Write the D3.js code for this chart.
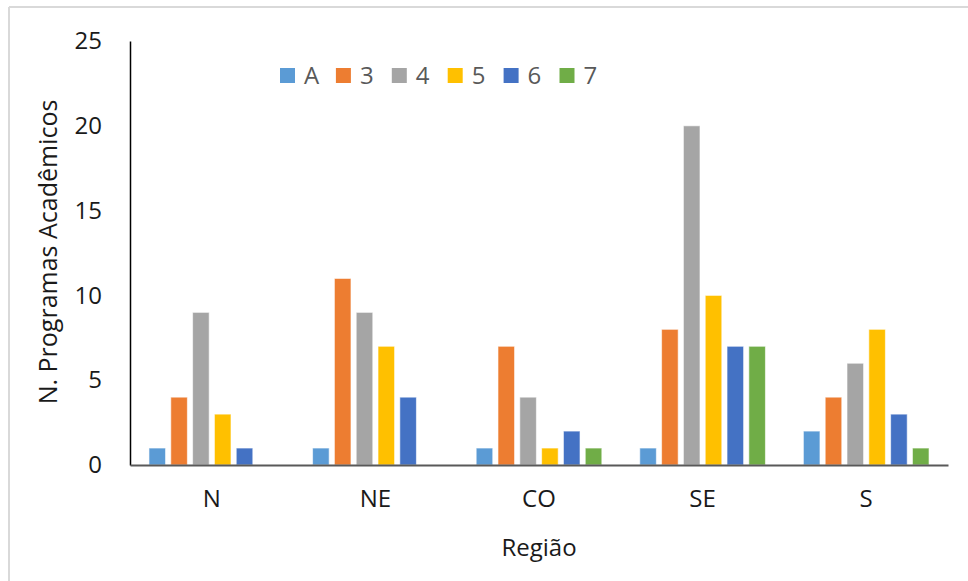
<!DOCTYPE html>
<html>
<head>
<meta charset="utf-8">
<script src="https://cdn.jsdelivr.net/npm/d3@7/dist/d3.min.js"></script>
<style>
  html, body { margin: 0; padding: 0; background: #fff; }
  svg { display: block; }
  text { font-family: "Open Sans", Lato, sans-serif; }
</style>
</head>
<body>
<svg id="chart" width="968" height="581"></svg>
<script>
// Regions and program counts per evaluation grade
const regions = ["N", "NE", "CO", "SE", "S"];
const series = ["A", "3", "4", "5", "6", "7"];
const colors = ["#5B9BD5", "#ED7D31", "#A5A5A5", "#FFC000", "#4472C4", "#70AD47"];
const valuesA = [1, 1, 1, 1, 2];
const values3 = [4, 11, 7, 8, 4];
const values4 = [9, 9, 4, 20, 6];
const values5 = [3, 7, 1, 10, 8];
const values6 = [1, 4, 2, 7, 3];
const values7 = [0, 0, 1, 7, 1];
const yTicks = [0, 5, 10, 15, 20, 25];
const yTitle = "N. Programas Acadêmicos";
const xTitle = "Região";

const FONT = "'Open Sans', Lato, sans-serif";

const seriesValues = [valuesA, values3, values4, values5, values6, values7];
const rows = regions.map((r, i) => ({
  region: r,
  bars: series.map((s, j) => ({ key: s, value: seriesValues[j][i], color: colors[j] }))
}));

const svg = d3.select("#chart");

// outer frame (top and left edges)
svg.append("line").attr("x1", 9).attr("x2", 968).attr("y1", 7).attr("y2", 7)
  .attr("stroke", "#d9d9d9").attr("stroke-width", 2);
svg.append("line").attr("x1", 9).attr("x2", 9).attr("y1", 7).attr("y2", 581)
  .attr("stroke", "#d9d9d9").attr("stroke-width", 2);

const plot = { left: 130, right: 948, top: 41, bottom: 465 };

const x0 = d3.scaleBand().domain(regions).range([plot.left, plot.right]).padding(0);
const x1 = d3.scaleBand().domain(series).range([0, x0.bandwidth()])
  .paddingInner(0.24).paddingOuter(0.87);
const y = d3.scaleLinear().domain([0, 25]).range([plot.bottom, plot.top]);

// bars
const groups = svg.append("g").selectAll("g").data(rows).join("g")
  .attr("transform", d => `translate(${x0(d.region)},0)`);
groups.selectAll("rect").data(d => d.bars.filter(b => b.value > 0)).join("rect")
  .attr("x", d => x1(d.key))
  .attr("width", x1.bandwidth())
  .attr("y", d => y(d.value))
  .attr("height", d => y(0) - y(d.value))
  .attr("fill", d => d.color)
  .attr("stroke", "#ffffff")
  .attr("stroke-opacity", 0.6)
  .attr("stroke-width", 1);

// y axis: line only, labels on the left
const yAxis = svg.append("g").attr("transform", `translate(${plot.left},0)`)
  .call(d3.axisLeft(y).tickValues(yTicks).tickSize(0).tickPadding(28));
yAxis.select(".domain").attr("stroke", "#000").attr("stroke-width", 1.5);
yAxis.selectAll("text").attr("font-size", 24).attr("fill", "#1a1a1a")
  .attr("font-family", FONT);

// x axis
const xAxis = svg.append("g").attr("transform", `translate(0,${plot.bottom})`)
  .call(d3.axisBottom(x0).tickSize(0).tickPadding(25));
xAxis.select(".domain").attr("stroke", "#595959").attr("stroke-width", 2);
xAxis.selectAll("text").attr("font-size", 24).attr("fill", "#1a1a1a")
  .attr("font-family", FONT);

// axis titles
svg.append("text").attr("x", 539).attr("y", 556).attr("text-anchor", "middle")
  .attr("font-size", 24).attr("fill", "#1a1a1a").text(xTitle);
svg.append("text").attr("transform", "translate(57,252) rotate(-90)")
  .attr("text-anchor", "middle").attr("font-size", 25).attr("fill", "#1a1a1a").text(yTitle);

// legend
const legend = svg.append("g").selectAll("g").data(series).join("g")
  .attr("transform", (d, i) => `translate(${280 + i * 55.9},68)`);
legend.append("rect").attr("width", 15).attr("height", 15)
  .attr("fill", (d, i) => colors[i]);
legend.append("text").attr("x", 24).attr("y", 16).attr("font-size", 24)
  .attr("fill", "#595959").text(d => d);
</script>
</body>
</html>
